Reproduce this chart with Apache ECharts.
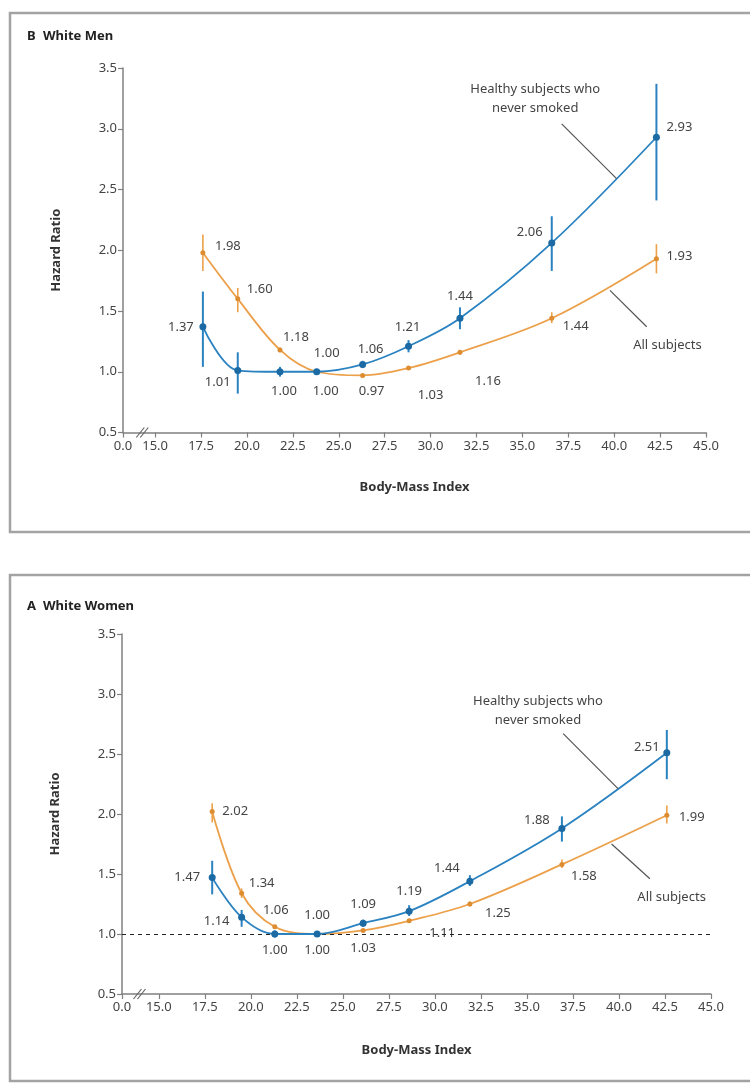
<!DOCTYPE html>
<html>
<head>
<meta charset="utf-8">
<script src="https://cdn.jsdelivr.net/npm/echarts@6/dist/echarts.min.js"></script>
<style>
html,body{margin:0;padding:0;background:#fff;}
#chart{width:750px;height:1083px;}
</style>
</head>
<body>
<div id="chart"></div>
<script>
// ---------- DATA ----------
const xTickValues = [15.0, 17.5, 20.0, 22.5, 25.0, 27.5, 30.0, 32.5, 35.0, 37.5, 40.0, 42.5, 45.0];

// Panel B: White Men
const menBMI = [17.6, 19.5, 21.8, 23.8, 26.3, 28.8, 31.6, 36.6, 42.3];
const menHealthyHR = [1.37, 1.01, 1.00, 1.00, 1.06, 1.21, 1.44, 2.06, 2.93];
const menHealthyLo = [1.04, 0.82, 0.96, 1.00, 1.03, 1.16, 1.35, 1.83, 2.41];
const menHealthyHi = [1.66, 1.16, 1.04, 1.00, 1.09, 1.26, 1.53, 2.28, 3.37];
const menAllHR = [1.98, 1.60, 1.18, 1.00, 0.97, 1.03, 1.16, 1.44, 1.93];
const menAllLo = [1.83, 1.49, 1.16, 1.00, 0.96, 1.02, 1.14, 1.40, 1.81];
const menAllHi = [2.13, 1.69, 1.20, 1.00, 0.98, 1.04, 1.18, 1.49, 2.05];

// Panel A: White Women
const womenBMI = [17.9, 19.5, 21.3, 23.6, 26.1, 28.6, 31.9, 36.9, 42.6];
const womenHealthyHR = [1.47, 1.14, 1.00, 1.00, 1.09, 1.19, 1.44, 1.88, 2.51];
const womenHealthyLo = [1.33, 1.06, 0.97, 1.00, 1.06, 1.15, 1.40, 1.77, 2.29];
const womenHealthyHi = [1.61, 1.20, 1.03, 1.00, 1.12, 1.24, 1.49, 1.98, 2.70];
const womenAllHR = [2.02, 1.34, 1.06, 1.00, 1.03, 1.11, 1.25, 1.58, 1.99];
const womenAllLo = [1.93, 1.30, 1.05, 1.00, 1.02, 1.10, 1.23, 1.55, 1.92];
const womenAllHi = [2.09, 1.38, 1.07, 1.00, 1.04, 1.12, 1.27, 1.62, 2.07];

// ---------- LABEL PLACEMENT (pixel offsets, kept apart from data) ----------
const menHealthyLabelOff = [[-22,1],[-20,12],[4,20],[9,20],[8,-15],[-1,-19],[0,-22],[-22,-11],[23,-10]];
const menAllLabelOff = [[25,-6],[22,-10],[16,-13],[10,-18],[9,16],[22,27],[28,29],[24,8],[23,-2]];
const womenHealthyLabelOff = [[-25,0],[-25,4],[0,16],[0,16],[0,-19],[0,-20],[-23,-13],[-25,-8],[-20,-6]];
const womenAllLabelOff = [[23,0],[20,-10],[1,-17],[0,-19],[0,18],[33,12],[28,9],[22,12],[25,2]];

const BLUE_LINE = '#2a82c0';
const BLUE_PT = '#1b6aa3';
const ORANGE_LINE = '#eca04a';
const ORANGE_PT = '#dd8c30';
const FONT = '"Liberation Sans Narrow", "Noto Sans", "Liberation Sans", sans-serif';
const TXT = '#444';

const chart = echarts.init(document.getElementById('chart'), null, {renderer: 'canvas'});

const grids = [
  {left: 123, right: 44, top: 68, height: 364.5},
  {left: 122, right: 39, top: 634, height: 360}
];
const xMins = [13.25, 13.0];
const xNameGaps = [48, 50];

function xAxisFor(i) {
  const mn = xMins[i];
  const vals = [mn].concat(xTickValues);
  return {
    type: 'value', gridIndex: i, min: mn, max: 45,
    name: 'Body-Mass Index', nameLocation: 'middle', nameGap: xNameGaps[i],
    nameTextStyle: {fontFamily: FONT, fontSize: 13, fontWeight: 'bold', color: '#333'},
    axisLine: {show: true, onZero: false, lineStyle: {color: '#808080', width: 1.5}},
    axisTick: {show: true, length: 5, customValues: vals, lineStyle: {color: '#808080', width: 1.2}},
    axisLabel: {
      customValues: vals, fontFamily: FONT, fontSize: 13, color: TXT, margin: 7,
      formatter: v => (Math.abs(v - mn) < 1e-6 ? '0.0' : v.toFixed(1))
    },
    splitLine: {show: false}
  };
}
function yAxisFor(i) {
  return {
    type: 'value', gridIndex: i, min: 0.5, max: 3.5, interval: 0.5,
    name: 'Hazard Ratio', nameLocation: 'middle', nameGap: 60, nameRotate: 90,
    nameTextStyle: {fontFamily: FONT, fontSize: 13, fontWeight: 'bold', color: '#333'},
    axisLine: {show: true, lineStyle: {color: '#808080', width: 1.5}},
    axisTick: {show: true, length: 5, lineStyle: {color: '#808080', width: 1.2}},
    axisLabel: {fontFamily: FONT, fontSize: 13, color: TXT, margin: 6, formatter: v => v.toFixed(1)},
    splitLine: {show: false}
  };
}

function lineSeries(i, xs, ys, offs, lineColor, ptColor, symSize, z, extra) {
  return Object.assign({
    type: 'line', xAxisIndex: i, yAxisIndex: i, z: z,
    smooth: 0.35,
    symbol: 'circle', symbolSize: symSize,
    itemStyle: {color: ptColor},
    lineStyle: {color: lineColor, width: 1.8},
    data: xs.map((x, k) => ({
      value: [x, ys[k]],
      label: {show: true, position: 'inside', offset: offs[k],
              formatter: ys[k].toFixed(2), fontFamily: FONT, fontSize: 13, color: TXT}
    })),
    animation: false
  }, extra || {});
}
function errSeries(i, xs, lo, hi, color, w, z) {
  return {
    type: 'custom', xAxisIndex: i, yAxisIndex: i, z: z,
    data: xs.map((x, k) => [x, lo[k], hi[k]]),
    encode: {x: 0, y: [1, 2]},
    renderItem: function (params, api) {
      const a = api.coord([api.value(0), api.value(1)]);
      const b = api.coord([api.value(0), api.value(2)]);
      return {type: 'line', shape: {x1: a[0], y1: a[1], x2: b[0], y2: b[1]},
              style: {stroke: color, lineWidth: w}};
    },
    animation: false
  };
}

const option = {
  backgroundColor: '#fff',
  animation: false,
  grid: grids,
  xAxis: [xAxisFor(0), xAxisFor(1)],
  yAxis: [yAxisFor(0), yAxisFor(1)],
  series: [
    errSeries(0, menBMI, menAllLo, menAllHi, ORANGE_LINE, 1.6, 3),
    lineSeries(0, menBMI, menAllHR, menAllLabelOff, ORANGE_LINE, ORANGE_PT, 5, 4),
    errSeries(0, menBMI, menHealthyLo, menHealthyHi, BLUE_LINE, 2, 5),
    lineSeries(0, menBMI, menHealthyHR, menHealthyLabelOff, BLUE_LINE, BLUE_PT, 7, 6),
    errSeries(1, womenBMI, womenAllLo, womenAllHi, ORANGE_LINE, 1.6, 3),
    lineSeries(1, womenBMI, womenAllHR, womenAllLabelOff, ORANGE_LINE, ORANGE_PT, 5, 4, {
      markLine: {silent: true, symbol: 'none', label: {show: false},
                 lineStyle: {color: '#222', type: [4, 4], width: 1},
                 data: [{yAxis: 1.0}]}
    }),
    errSeries(1, womenBMI, womenHealthyLo, womenHealthyHi, BLUE_LINE, 2, 5),
    lineSeries(1, womenBMI, womenHealthyHR, womenHealthyLabelOff, BLUE_LINE, BLUE_PT, 7, 6)
  ]
};
chart.setOption(option);

// ---------- ANNOTATIONS (anchored in data space) ----------
const annotations = [
  {g: 0, text: 'Healthy subjects who\nnever smoked', at: [35.7, 3.25],
   line: [[37.14, 3.04], [40.13, 2.59]]},
  {g: 0, text: 'All subjects', at: [42.9, 1.22], line: [[39.77, 1.67], [41.77, 1.37]]},
  {g: 1, text: 'Healthy subjects who\nnever smoked', at: [35.6, 2.86],
   line: [[36.97, 2.67], [39.96, 2.21]]},
  {g: 1, text: 'All subjects', at: [42.86, 1.31], line: [[39.6, 1.75], [41.68, 1.46]]}
];
const breakAt = [14.3, 13.95];
const graphics = [];
// frames
graphics.push({type: 'rect', shape: {x: 10, y: 13, width: 760, height: 519},
  style: {fill: 'none', stroke: '#a3a3a3', lineWidth: 2.5}, z: 0});
graphics.push({type: 'rect', shape: {x: 10, y: 575, width: 760, height: 506},
  style: {fill: 'none', stroke: '#a3a3a3', lineWidth: 2.5}, z: 0});
// titles
[['B', 'White Men', 36], ['A', 'White Women', 606]].forEach(t => {
  graphics.push({type: 'text', x: 27, y: t[2], style: {text: t[0], font: 'bold 13px ' + FONT,
    fill: '#222', verticalAlign: 'middle'}});
  graphics.push({type: 'text', x: 43, y: t[2], style: {text: t[1], font: 'bold 13px ' + FONT,
    fill: '#222', verticalAlign: 'middle'}});
});
annotations.forEach(a => {
  const finder = {xAxisIndex: a.g, yAxisIndex: a.g};
  const p = chart.convertToPixel(finder, a.at);
  const l1 = chart.convertToPixel(finder, a.line[0]);
  const l2 = chart.convertToPixel(finder, a.line[1]);
  graphics.push({type: 'text', x: p[0], y: p[1], z: 10,
    style: {text: a.text, font: '13px ' + FONT, fill: TXT, align: 'center',
            verticalAlign: 'middle', lineHeight: 19}});
  graphics.push({type: 'line', z: 10, shape: {x1: l1[0], y1: l1[1], x2: l2[0], y2: l2[1]},
    style: {stroke: '#555', lineWidth: 1.2}});
});
// axis break marks
[0, 1].forEach(g => {
  const p = chart.convertToPixel({xAxisIndex: g, yAxisIndex: g}, [breakAt[g], 0.5]);
  [-2, 2].forEach(d => {
    graphics.push({type: 'line', z: 10,
      shape: {x1: p[0] + d - 4, y1: p[1] + 5, x2: p[0] + d + 4, y2: p[1] - 5},
      style: {stroke: '#666', lineWidth: 1.2}});
  });
});
chart.setOption({graphic: graphics});
</script>
</body>
</html>
